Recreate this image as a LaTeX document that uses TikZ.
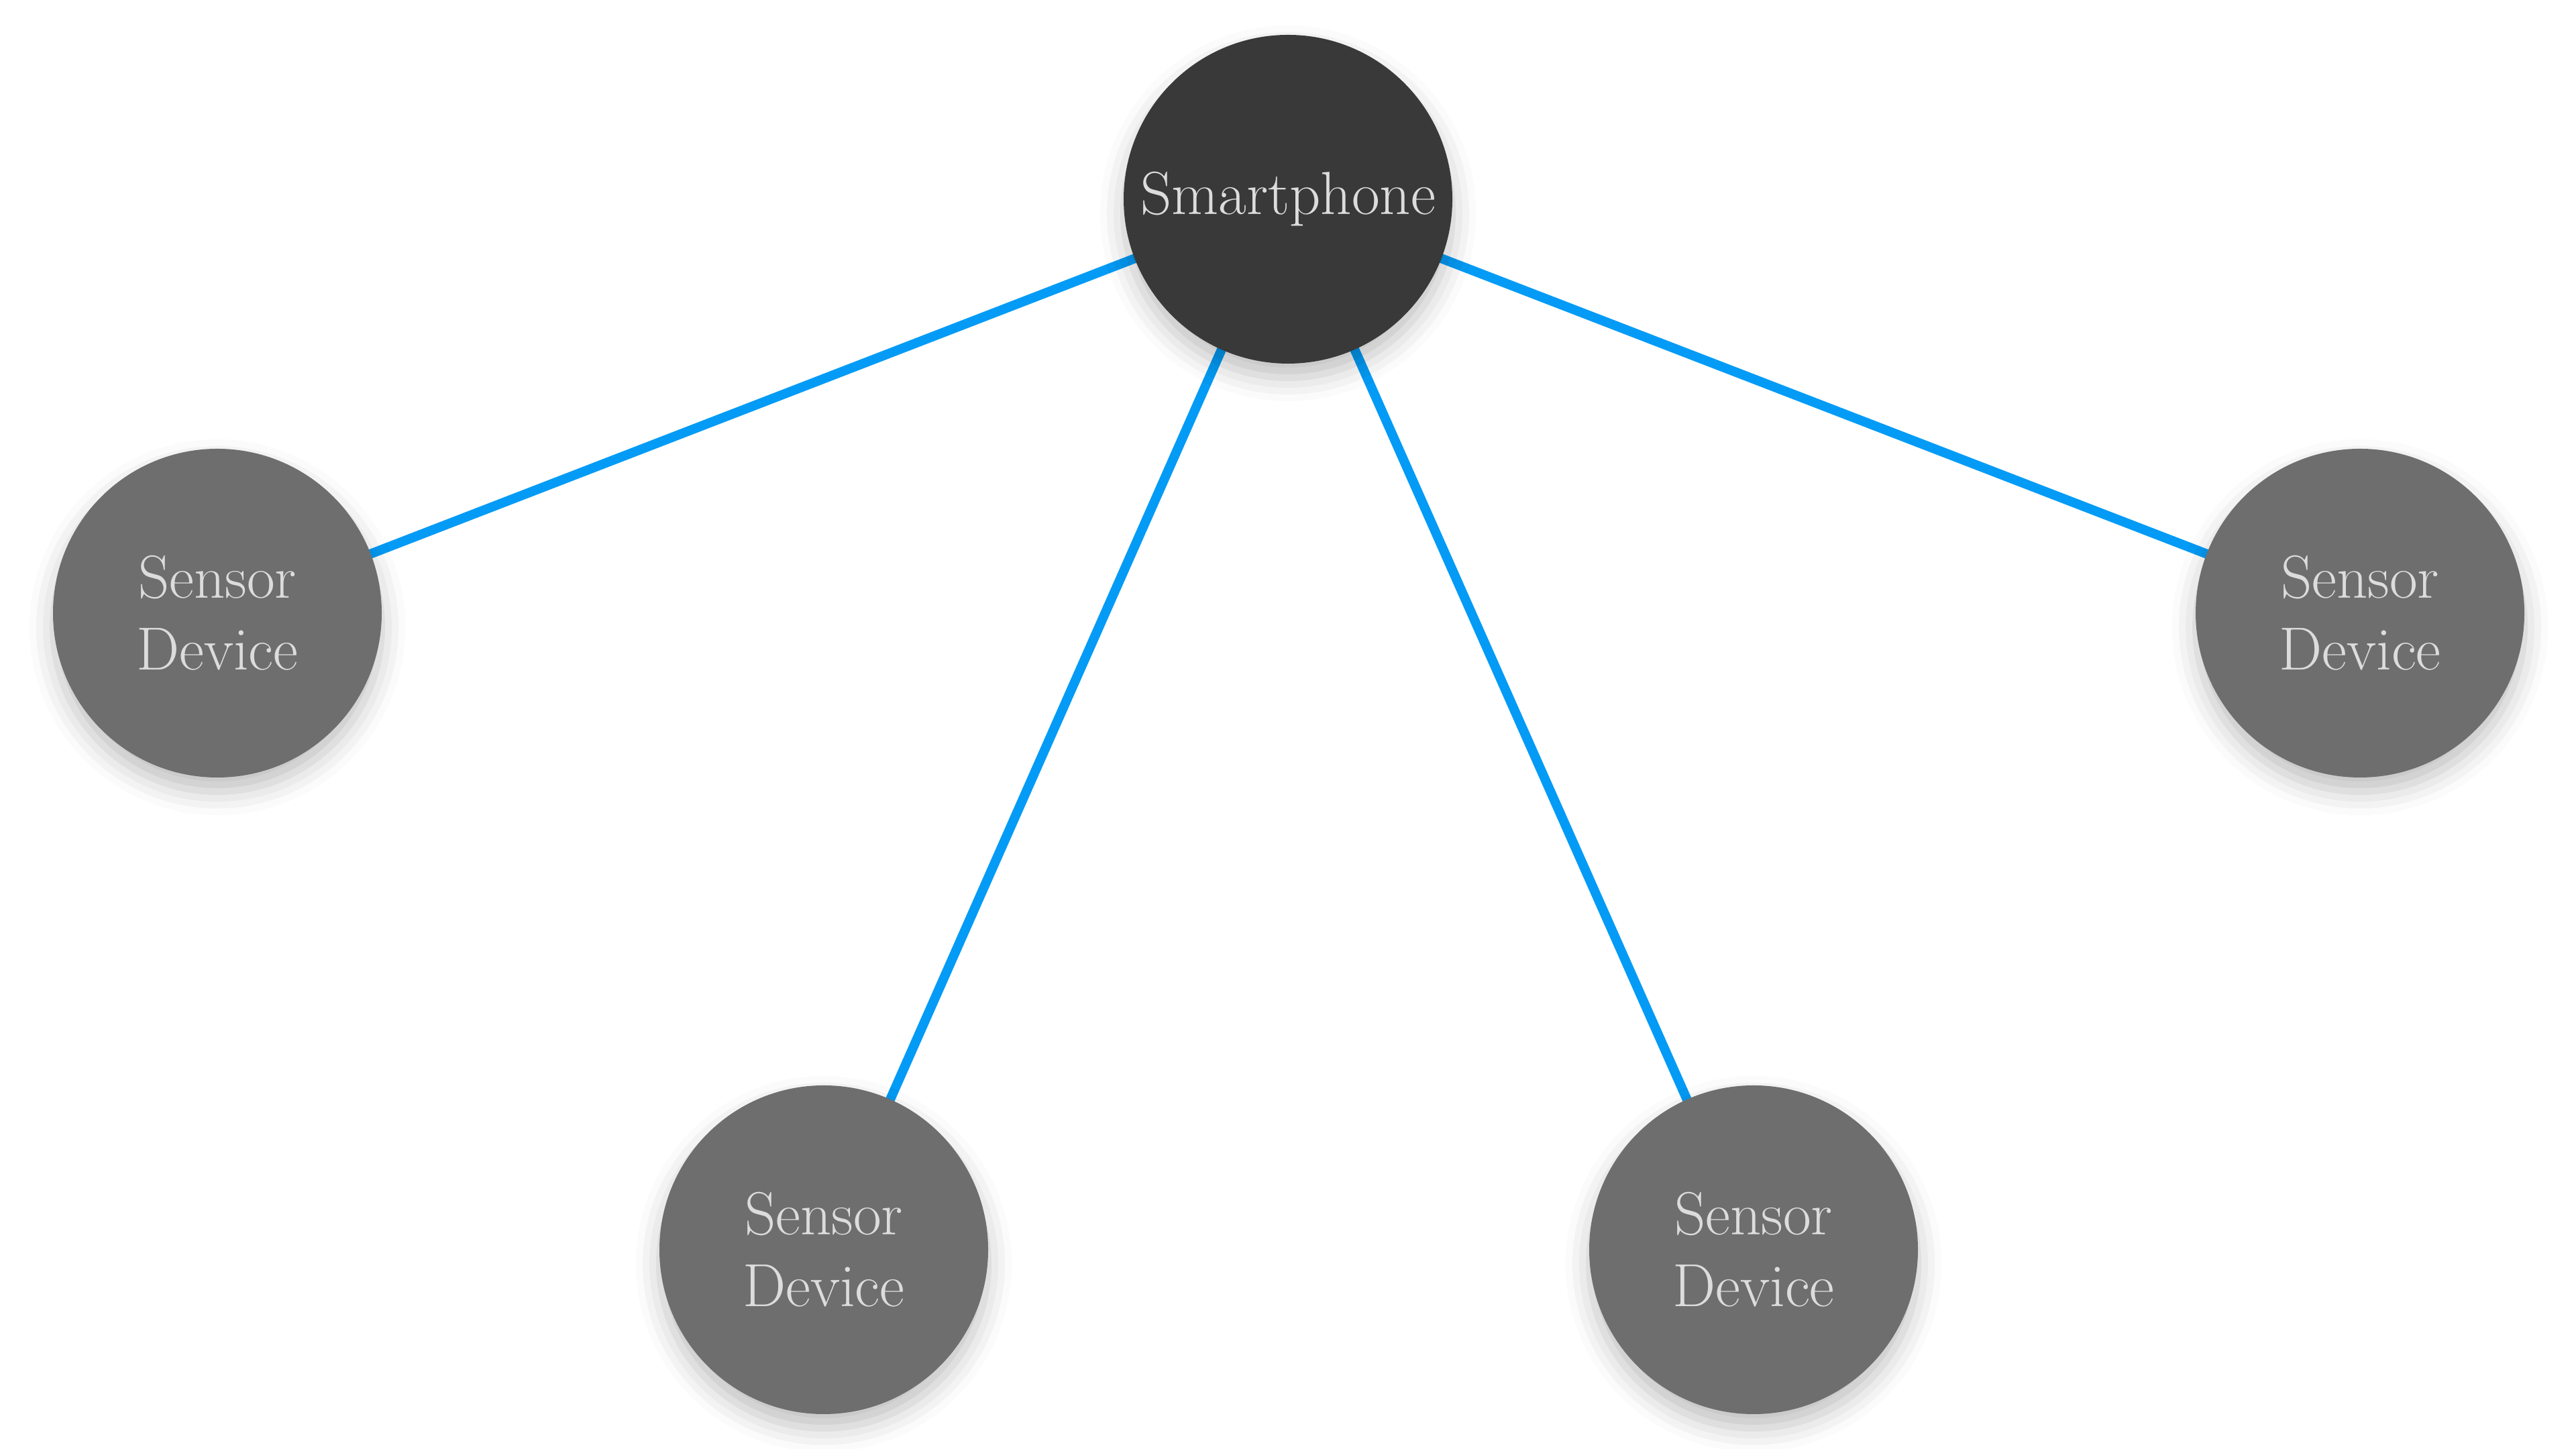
\documentclass[tikz,border=0pt]{standalone}
\usepackage{tikz}
\usetikzlibrary{backgrounds}
\usetikzlibrary{shadows.blur}
\definecolor{phonegray}{RGB}{57,57,57}
\definecolor{sensorgray}{RGB}{110,110,110}
\definecolor{textgray}{RGB}{220,220,220}
\definecolor{linkblue}{RGB}{3,155,245}

\begin{document}
\begin{tikzpicture}[
    device/.style={circle, minimum size=4.9cm, inner sep=0pt, text=textgray,
        align=center, font=\fontsize{25.8}{30.4}\selectfont,
        blur shadow={shadow xshift=0pt, shadow yshift=-6pt, shadow blur radius=10pt, shadow opacity=25}},
    link/.style={draw=linkblue, line width=0.14cm}
]
    \useasboundingbox (0, 0) rectangle (38.4, 21.6);
    % hub
    \node [device, fill=phonegray]  (0) at (19.2, 18.63) {Smartphone};
    % sensors
    \node [device, fill=sensorgray]  (1) at (3.24, 12.46) {Sensor\\Device};
    \node [device, fill=sensorgray]  (2) at (12.28, 2.97) {Sensor\\Device};
    \node [device, fill=sensorgray]  (3) at (26.14, 2.97) {Sensor\\Device};
    \node [device, fill=sensorgray]  (4) at (35.18, 12.46) {Sensor\\Device};
    % links
    \begin{scope}[on background layer]
    \foreach \i in {1,...,4}
        \draw [link] (0.center) to (\i.center);
    \end{scope}
\end{tikzpicture}
\end{document}
